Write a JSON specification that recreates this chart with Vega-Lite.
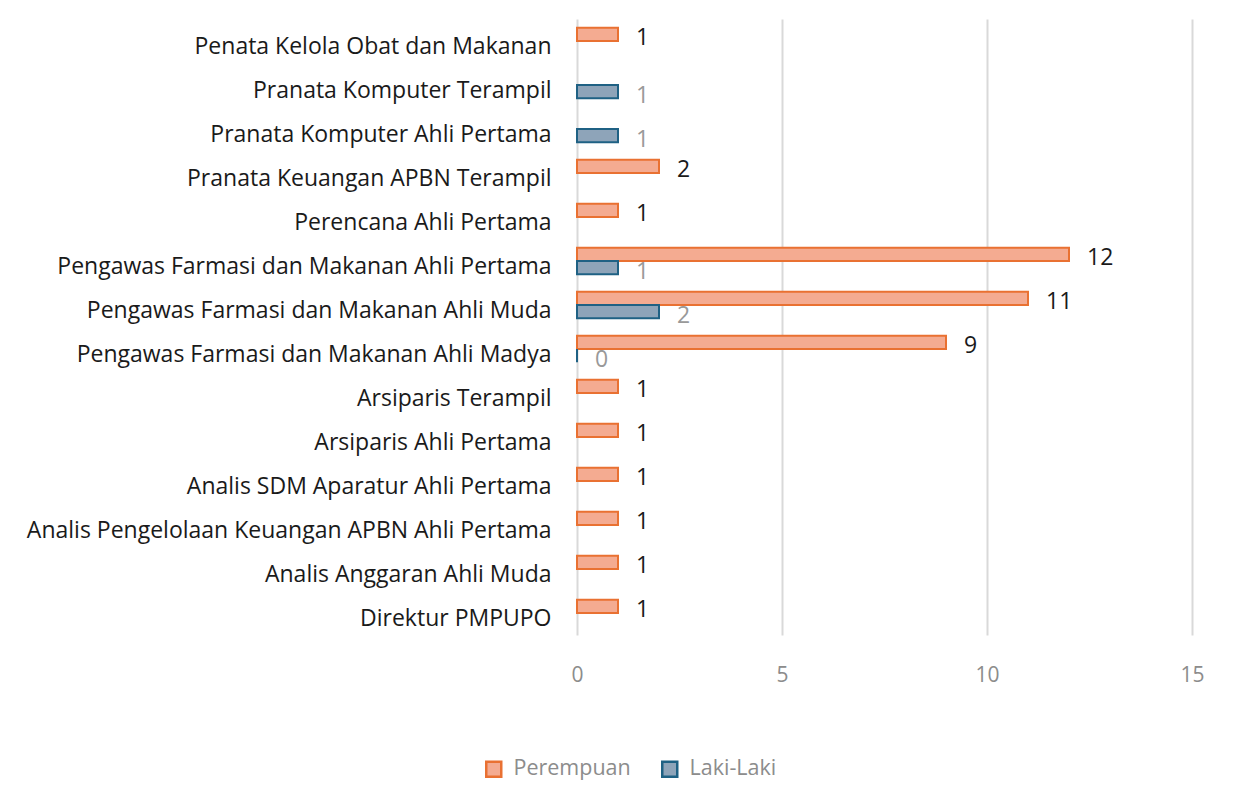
{
  "$schema": "https://vega.github.io/schema/vega-lite/v6.json",
  "width": 615,
  "height": 616,
  "padding": {"left": 7, "top": 19, "right": 60, "bottom": 10},
  "background": "white",
  "config": {"view": {"stroke": null}, "font": "Open Sans"},
  "data": {"values": [
    {"category": "Penata Kelola Obat dan Makanan", "series": "Perempuan", "value": 1},
    {"category": "Pranata Komputer Terampil", "series": "Laki-Laki", "value": 1},
    {"category": "Pranata Komputer Ahli Pertama", "series": "Laki-Laki", "value": 1},
    {"category": "Pranata Keuangan APBN Terampil", "series": "Perempuan", "value": 2},
    {"category": "Perencana Ahli Pertama", "series": "Perempuan", "value": 1},
    {"category": "Pengawas Farmasi dan Makanan Ahli Pertama", "series": "Perempuan", "value": 12},
    {"category": "Pengawas Farmasi dan Makanan Ahli Pertama", "series": "Laki-Laki", "value": 1},
    {"category": "Pengawas Farmasi dan Makanan Ahli Muda", "series": "Perempuan", "value": 11},
    {"category": "Pengawas Farmasi dan Makanan Ahli Muda", "series": "Laki-Laki", "value": 2},
    {"category": "Pengawas Farmasi dan Makanan Ahli Madya", "series": "Perempuan", "value": 9},
    {"category": "Pengawas Farmasi dan Makanan Ahli Madya", "series": "Laki-Laki", "value": 0},
    {"category": "Arsiparis Terampil", "series": "Perempuan", "value": 1},
    {"category": "Arsiparis Ahli Pertama", "series": "Perempuan", "value": 1},
    {"category": "Analis SDM Aparatur Ahli Pertama", "series": "Perempuan", "value": 1},
    {"category": "Analis Pengelolaan Keuangan APBN Ahli Pertama", "series": "Perempuan", "value": 1},
    {"category": "Analis Anggaran Ahli Muda", "series": "Perempuan", "value": 1},
    {"category": "Direktur PMPUPO", "series": "Perempuan", "value": 1}
  ]},
  "encoding": {
    "y": {
      "field": "category", "type": "nominal", "sort": null, "title": null,
      "scale": {"paddingInner": 0.4, "paddingOuter": 0.2},
      "axis": {"domain": false, "ticks": false, "grid": false, "labelFontSize": 23, "labelColor": "#1a1a1a",
               "labelPadding": 26, "labelOffset": 6, "minExtent": 570, "maxExtent": 570, "labelLimit": 600, "labelFont": "Open Sans"}
    },
    "yOffset": {"field": "series", "type": "nominal", "sort": ["Perempuan", "Laki-Laki"], "scale": {"paddingInner": 0, "paddingOuter": 0}},
    "x": {
      "field": "value", "type": "quantitative", "title": null,
      "scale": {"domain": [0, 15], "nice": false},
      "axis": {"values": [0, 5, 10, 15], "domain": false, "ticks": false, "grid": true, "gridColor": "#d9d9d9", "gridWidth": 2,
               "labelFontSize": 21, "labelColor": "#8c8c8c", "labelPadding": 29, "labelFlush": false, "labelFont": "Open Sans"}
    }
  },
  "layer": [
    {
      "mark": {"type": "bar", "strokeWidth": 2},
      "encoding": {
        "fill": {"field": "series", "type": "nominal", "sort": ["Perempuan", "Laki-Laki"],
                 "scale": {"domain": ["Perempuan", "Laki-Laki"], "range": ["#f4ab91", "#8ea4b9"]},
                 "legend": {"title": null, "orient": "none", "legendX": -94, "legendY": 739, "direction": "horizontal",
                            "symbolType": "square", "symbolSize": 225, "symbolStrokeWidth": 2.5, "labelFontSize": 21.5,
                            "labelColor": "#8c8c8c", "columnPadding": 26, "labelOffset": 9, "labelFont": "Open Sans"}},
        "stroke": {"field": "series", "type": "nominal", "sort": ["Perempuan", "Laki-Laki"],
                   "scale": {"domain": ["Perempuan", "Laki-Laki"], "range": ["#e97132", "#1f6184"]}, "legend": null}
      }
    },
    {
      "mark": {"type": "text", "align": "left", "baseline": "middle", "dx": 18, "dy": 4, "fontSize": 23, "font": "Open Sans"},
      "encoding": {
        "text": {"field": "value", "type": "quantitative"},
        "color": {"condition": {"test": "datum.series === 'Perempuan'", "value": "#1a1a1a"}, "value": "#999999"}
      }
    }
  ]
}
